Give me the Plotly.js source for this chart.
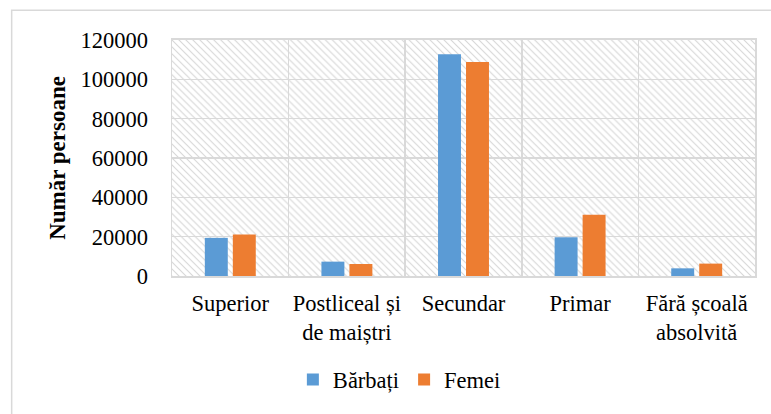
<!DOCTYPE html>
<html>
<head>
<meta charset="utf-8">
<script src="https://cdn.plot.ly/plotly-3.0.1.min.js"></script>
<style>
html,body{margin:0;padding:0;background:#fff;}
#chart{width:771px;height:414px;}
#warm{position:absolute;left:-2000px;top:0;font-family:'Liberation Serif';font-size:22px;}
</style>
</head>
<body>
<div id="warm">Superior Postliceal și de maiștri Secundar Primar Fără școală absolvită Bărbați Femei 0123456789 <b>Număr persoane</b></div>
<div id="chart"></div>
<script>
const categories = ["Superior", "Postliceal și<br>de maiștri", "Secundar", "Primar", "Fără școală<br>absolvită"];
const barbati = [19400, 7300, 112700, 19700, 3900];
const femei = [21100, 6100, 108800, 31200, 6300];
const seriesNames = ["Bărbați", "Femei"];
const seriesColors = ["#5B9BD5", "#ED7D31"];
const yTicks = [0, 20000, 40000, 60000, 80000, 100000, 120000];

const svg = '<svg xmlns="http://www.w3.org/2000/svg" width="585" height="238">' +
  '<defs><pattern id="p" patternUnits="userSpaceOnUse" width="7" height="7">' +
  '<path d="M-1,-1 L8,8 M-1,6 L1,8 M6,-1 L8,1" stroke="#d6d6d6" stroke-width="1.1"/>' +
  '</pattern></defs><rect width="585" height="238" fill="url(#p)"/></svg>';
const bgSrc = 'data:image/svg+xml;charset=utf-8,' + encodeURIComponent(svg);

const FAM = 'Liberation Serif';
const f = (size, extra) => Object.assign({family: FAM, color: '#000', size: size}, extra || {});

const traces = [
  {type: 'bar', name: seriesNames[0], x: categories, y: barbati, marker: {color: seriesColors[0]}},
  {type: 'bar', name: seriesNames[1], x: categories, y: femei, marker: {color: seriesColors[1]}}
];

const layout = {
  width: 771, height: 414,
  margin: {l: 172, r: 16, t: 40, b: 136},
  paper_bgcolor: '#fff',
  plot_bgcolor: 'rgba(0,0,0,0)',
  barmode: 'group',
  bargap: 0.52,
  bargroupgap: 0.18,
  font: f(22.5),
  xaxis: {
    type: 'category',
    tickson: 'boundaries',
    tickangle: 0,
    showgrid: true, gridcolor: '#d9d9d9', gridwidth: 1.5,
    showline: true, linecolor: '#d9d9d9', linewidth: 2, mirror: true,
    ticks: '', tickfont: f(22.5),
    ticklabelstandoff: 6
  },
  yaxis: {
    range: [0, 120000],
    tickvals: yTicks,
    ticktext: yTicks.map(String),
    showgrid: true, gridcolor: '#d9d9d9', gridwidth: 1.5,
    showline: true, linecolor: '#d9d9d9', linewidth: 1.5, mirror: true,
    zeroline: false,
    ticks: '', tickfont: f(22.5),
    ticklabelstandoff: 18,
    title: {text: 'Număr persoane', font: f(23, {weight: 'bold'}), standoff: 8}
  },
  legend: {
    orientation: 'h', x: 0.39, xanchor: 'center', y: -0.44, yanchor: 'middle',
    font: f(22.5), itemwidth: 30, traceorder: 'normal'
  },
  images: [{source: bgSrc, xref: 'paper', yref: 'paper', x: 0, y: 1, sizex: 1, sizey: 1,
            xanchor: 'left', yanchor: 'top', sizing: 'stretch', layer: 'below'}],
  shapes: [{type: 'rect', xref: 'paper', yref: 'paper', x0: -0.275, x1: 1.05, y0: -0.6, y1: 1.126,
            line: {color: '#d9d9d9', width: 1.5}, fillcolor: 'rgba(0,0,0,0)', layer: 'below'}]
};

const draw = () => Plotly.newPlot('chart', traces, layout, {staticPlot: true, displayModeBar: false});
draw();
</script>
</body>
</html>
